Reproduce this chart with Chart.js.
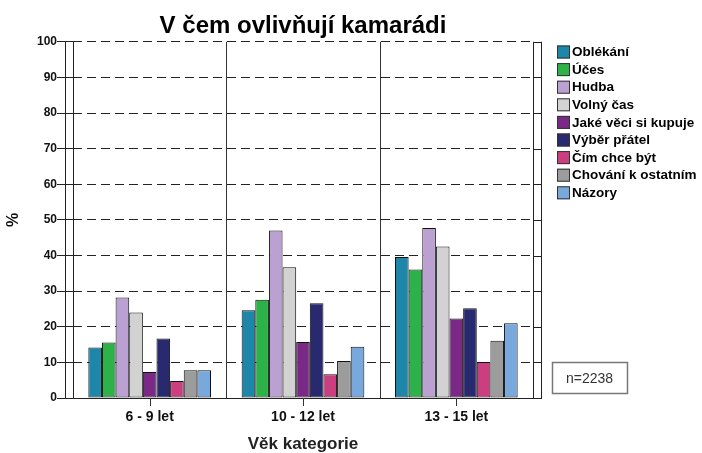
<!DOCTYPE html>
<html>
<head>
<meta charset="utf-8">
<script src="https://cdn.jsdelivr.net/npm/chart.js@4"></script>
<style>
html,body{margin:0;padding:0;background:#fff;}
#wrap{width:702px;height:453px;position:relative;}
</style>
</head>
<body>
<div id="wrap"><canvas id="c" width="702" height="453"></canvas></div>
<script>
const categories = ['6 - 9 let', '10 - 12 let', '13 - 15 let'];
const seriesNames = ['Oblékání', 'Účes', 'Hudba', 'Volný čas', 'Jaké věci si kupuje', 'Výběr přátel', 'Čím chce být', 'Chování k ostatním', 'Názory'];
const oblekani = [14.2, 24.6, 39.6];
const uces = [15.6, 27.6, 36.1];
const hudba = [28.2, 47.0, 47.7];
const volnyCas = [24.0, 36.7, 42.5];
const jakeVeci = [7.3, 15.7, 22.3];
const vyberPratel = [16.7, 26.6, 25.2];
const cimChceByt = [4.8, 6.7, 10.1];
const chovani = [7.8, 10.4, 16.1];
const nazory = [7.8, 14.4, 21.0];
const yTicks = [0, 10, 20, 30, 40, 50, 60, 70, 80, 90, 100];
const colors = ['#1e86a8', '#2db24a', '#bba0d2', '#d2d2d2', '#7a2a86', '#28296f', '#cb3f80', '#9c9c9c', '#78a8dc'];
const seriesValues = [oblekani, uces, hudba, volnyCas, jakeVeci, vyberPratel, cimChceByt, chovani, nazory];
const nLabel = 'n=2238';

const FONT = "'Liberation Sans', Arial, sans-serif";

const framePlugin = {
  id: 'frame',
  beforeDatasetsDraw(chart) {
    const ctx = chart.ctx;
    const a = chart.chartArea;
    const x = chart.scales.x;
    ctx.save();
    ctx.strokeStyle = '#333';
    ctx.lineWidth = 1;
    for (let i = 0; i < categories.length - 1; i++) {
      const px = Math.round(x.getPixelForValue(i + 0.5)) + 0.5;
      ctx.beginPath();
      ctx.moveTo(px, a.top);
      ctx.lineTo(px, a.bottom);
      ctx.stroke();
    }
    ctx.restore();
  },
  afterDraw(chart) {
    const ctx = chart.ctx;
    const a = chart.chartArea;
    const x = chart.scales.x;
    ctx.save();
    ctx.strokeStyle = '#222';
    ctx.lineWidth = 1;
    ctx.setLineDash([]);
    const outerL = a.left - 8, outerR = a.right + 8;
    [outerL, a.left, a.right, outerR].forEach(px => {
      ctx.beginPath();
      ctx.moveTo(Math.round(px) + 0.5, a.top);
      ctx.lineTo(Math.round(px) + 0.5, a.bottom);
      ctx.stroke();
    });
    ctx.beginPath();
    ctx.moveTo(outerL, Math.round(a.bottom) + 0.5);
    ctx.lineTo(outerR + 1, Math.round(a.bottom) + 0.5);
    ctx.stroke();
    const y = chart.scales.y;
    yTicks.forEach(v => {
      const py = Math.round(y.getPixelForValue(v)) + 0.5;
      ctx.beginPath();
      ctx.moveTo(a.right, py);
      ctx.lineTo(outerR, py);
      ctx.stroke();
    });
    ctx.strokeStyle = '#333';
    categories.forEach((c, i) => {
      const px = Math.round(x.getPixelForValue(i)) + 0.5;
      ctx.beginPath();
      ctx.moveTo(px, a.bottom);
      ctx.lineTo(px, a.bottom + 8);
      ctx.stroke();
    });
    // legend
    const lx = outerR + 16;
    const ly = 52;
    ctx.font = 'bold 13.5px ' + FONT;
    ctx.textBaseline = 'middle';
    ctx.textAlign = 'left';
    chart.data.datasets.forEach((ds, i) => {
      const cy = ly + i * 17.6;
      ctx.fillStyle = ds.backgroundColor;
      ctx.fillRect(lx, cy - 6.5, 13, 13);
      ctx.strokeStyle = '#333';
      ctx.strokeRect(lx + 0.5, cy - 6.5 + 0.5, 12, 12);
      ctx.fillStyle = '#000';
      ctx.fillText(ds.label, lx + 15, cy + 0.5);
    });
    // n box
    ctx.strokeStyle = '#777';
    ctx.lineWidth = 1.5;
    ctx.strokeRect(552.5, 362.5, 75, 31);
    ctx.fillStyle = '#333';
    ctx.font = '14px ' + FONT;
    ctx.textAlign = 'center';
    ctx.fillText(nLabel, 589.5, 379.5);
    ctx.restore();
  }
};

const datasets = seriesNames.map((name, i) => ({
  label: name,
  data: seriesValues[i],
  backgroundColor: colors[i],
  borderColor: '#111',
  borderWidth: 1,
  borderSkipped: false,
  barPercentage: 1.0,
  categoryPercentage: 0.8
}));

new Chart(document.getElementById('c'), {
  type: 'bar',
  data: { labels: categories, datasets },
  options: {
    responsive: false,
    animation: false,
    devicePixelRatio: 1,
    layout: { padding: { left: 0, right: 169, top: 0, bottom: 0 } },
    plugins: {
      legend: { display: false },
      tooltip: { enabled: false },
      title: {
        display: true,
        text: 'V čem ovlivňují kamarádi',
        fullSize: false,
        color: '#000',
        font: { family: FONT, size: 24, weight: 'bold', lineHeight: 1.2 },
        padding: { top: 12, bottom: 1 }
      }
    },
    scales: {
      x: {
        type: 'category',
        grid: { display: false, drawTicks: false },
        border: { display: false },
        ticks: { color: '#111', padding: 11, font: { family: FONT, size: 14, weight: 'bold' } },
        title: { display: true, text: 'Věk kategorie', color: '#222', font: { family: FONT, size: 17, weight: 'bold', lineHeight: 1.0 }, padding: { top: 0, bottom: 0 } },
        afterFit(s) { s.height = 55; }
      },
      y: {
        min: 0, max: 100,
        afterBuildTicks(s) { s.ticks = yTicks.map(v => ({ value: v })); },
        grid: { color: '#222', lineWidth: 1, drawTicks: true, tickLength: 16, tickColor: '#222', tickBorderDash: [], borderDash: [9, 5] },
        border: { display: false, dash: [9, 5] },
        ticks: { color: '#111', padding: 0, font: { family: FONT, size: 12, weight: 'bold' } },
        title: { display: true, text: '%', color: '#111', font: { family: FONT, size: 16, weight: 'bold', lineHeight: 1.2 }, padding: { top: 4, bottom: 0 } },
        afterFit(s) { s.width = 73; }
      }
    }
  },
  plugins: [framePlugin]
});
</script>
</body>
</html>
